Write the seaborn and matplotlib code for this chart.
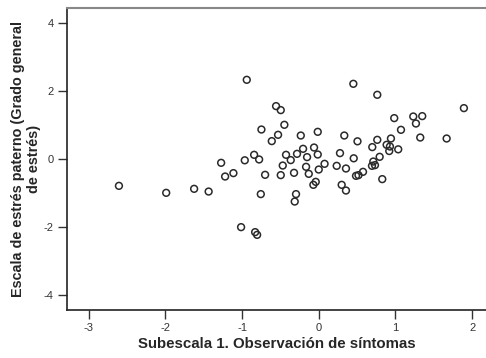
import matplotlib
matplotlib.use("Agg")
import matplotlib.pyplot as plt
import seaborn as sns
import pandas as pd

# Subescala 1 (x) vs. escala de estrés paterno (y)
x_sintomas = [
    -2.604, -1.988, -1.624, -1.435, -1.272, -1.220, -1.112, -1.012, -0.938, -0.964,
    -0.842, -0.777, -0.699, -0.755, -0.829, -0.803, -0.556, -0.495, -0.448, -0.747,
    -0.530, -0.612, -0.234, -0.013, 0.333, 0.505, -0.061, -0.204, -0.013, -0.283,
    -0.426, 0.277, 0.456, -0.152, -0.365, -0.469, -0.495, -0.322, -0.165, -0.130,
    0.000, 0.076, -0.039, -0.070, 0.234, 0.355, 0.486, 0.518, 0.577, 0.299,
    0.355, -0.296, -0.313, 0.451, 0.763, 1.892, 0.984, 1.232, 1.349, 1.267,
    1.072, 0.763, 0.941, 1.323, 1.667, 0.698, 0.885, 0.928, 0.919, 1.036,
    0.794, 0.711, 0.694, 0.733, 0.828,
]
y_estres = [
    -0.788, -0.994, -0.876, -0.956, -0.109, -0.513, -0.413, -2.006, 2.339, -0.035,
    0.127, -0.010, -0.463, -1.032, -2.153, -2.233, 1.563, 1.445, 1.012, 0.873,
    0.717, 0.531, 0.696, 0.805, 0.696, 0.525, 0.342, 0.304, 0.136, 0.156,
    0.127, 0.177, 0.024, 0.059, -0.029, -0.189, -0.472, -0.404, -0.227, -0.434,
    -0.307, -0.139, -0.670, -0.758, -0.198, -0.277, -0.493, -0.472, -0.375, -0.758,
    -0.926, -1.032, -1.251, 2.221, 1.897, 1.504, 1.209, 1.257, 1.268, 1.050,
    0.864, 0.569, 0.608, 0.637, 0.608, 0.354, 0.422, 0.372, 0.239, 0.289,
    0.068, -0.071, -0.198, -0.177, -0.590,
]
x_ticks = [-3, -2, -1, 0, 1, 2]
y_ticks = [-4, -2, 0, 2, 4]

df = pd.DataFrame({"x": x_sintomas, "y": y_estres})

sns.set_style("white")
plt.rcParams["font.family"] = ["Liberation Sans", "DejaVu Sans"]
plt.rcParams["axes.unicode_minus"] = False

fig = plt.figure(figsize=(4.86, 3.58), dpi=100)
ax = fig.add_axes([0.138, 0.134, 0.862, 0.844])

sns.scatterplot(data=df, x="x", y="y", ax=ax, s=24, marker="o",
                facecolor="none", edgecolor="#2a2a2a", linewidth=1.1)

ax.set_xlim(-3.28, 2.18)
ax.set_ylim(-4.45, 4.46)
ax.set_xticks(x_ticks)
ax.set_yticks(y_ticks)
ax.tick_params(axis="both", direction="out", length=6.5, width=1,
               color="#333333", labelsize=8, labelcolor="#333333", pad=3,
               bottom=True, left=True)

for side in ["left", "bottom"]:
    ax.spines[side].set_color("#222222")
    ax.spines[side].set_linewidth(1.2)
ax.spines["top"].set_color("#888888")
ax.spines["top"].set_linewidth(1.5)
ax.spines["right"].set_visible(False)

ax.set_xlabel("Subescala 1. Observación de síntomas", fontsize=10.8,
              fontweight="bold", labelpad=3)
ax.set_ylabel("Escala de estrés paterno (Grado general\nde estrés)",
              fontsize=10.4, fontweight="bold", labelpad=2, linespacing=1.15)

fig.savefig("out.png", dpi=100)
